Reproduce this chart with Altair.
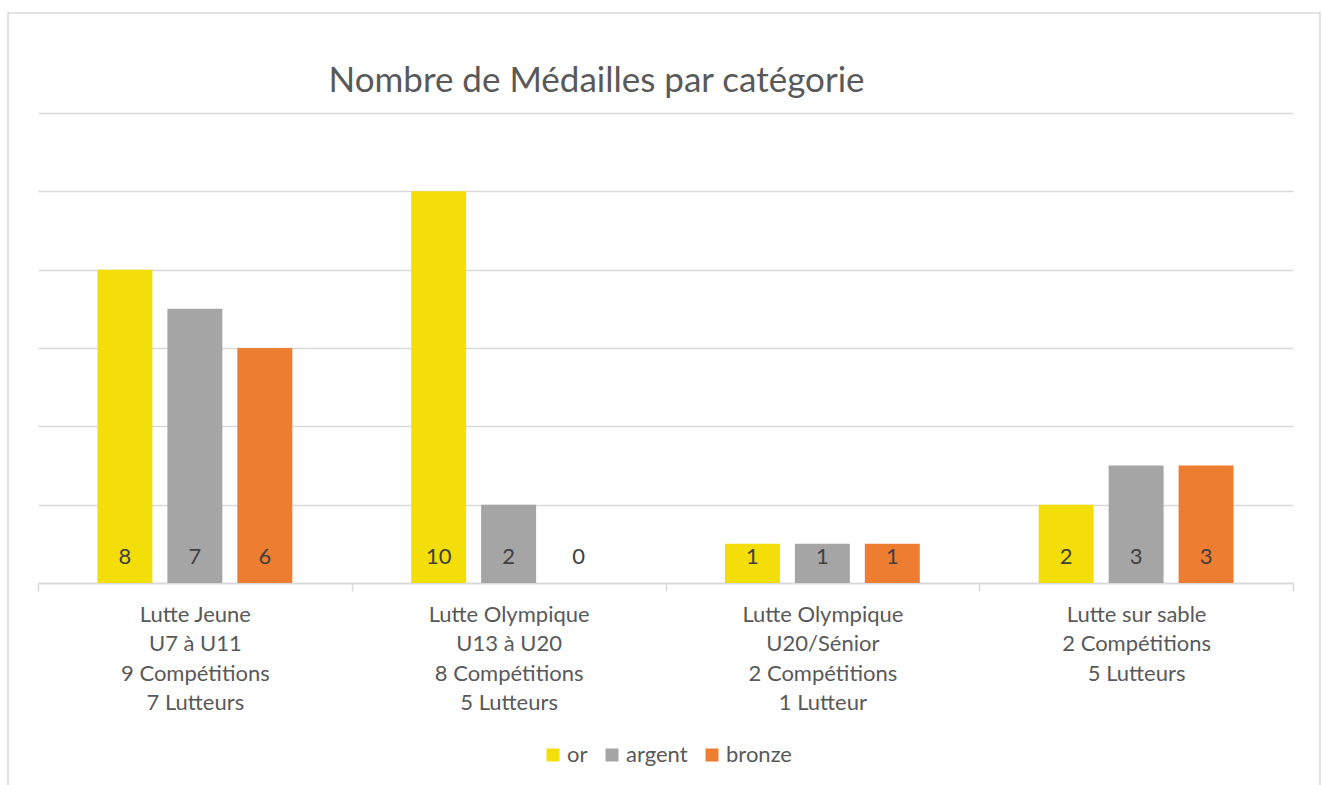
import altair as alt
import pandas as pd

categories = [
    "Lutte Jeune\nU7 à U11\n9 Compétitions\n7 Lutteurs",
    "Lutte Olympique\nU13 à U20\n8 Compétitions\n5 Lutteurs",
    "Lutte Olympique\nU20/Sénior\n2 Compétitions\n1 Lutteur",
    "Lutte sur sable\n2 Compétitions\n5 Lutteurs",
]
medals = ["or", "argent", "bronze"]
or_values = [8, 10, 1, 2]
argent_values = [7, 2, 1, 3]
bronze_values = [6, 0, 1, 3]
colors = ["#F3DE0A", "#A5A5A5", "#ED7D31"]
y_ticks = [0, 2, 4, 6, 8, 10, 12]

rows = []
for i, c in enumerate(categories):
    for m, vals in zip(medals, [or_values, argent_values, bronze_values]):
        rows.append({"categorie": c, "medaille": m, "valeur": vals[i]})
df = pd.DataFrame(rows)

FONT = "Lato"
W, H = 1255, 470
GRID = "#D9D9D9"

x_enc = alt.X(
    "categorie:N",
    sort=categories,
    title=None,
    scale=alt.Scale(paddingInner=0, paddingOuter=0),
    axis=alt.Axis(
        labelAngle=0,
        labelExpr="split(datum.label, '\\n')",
        labelFont=FONT,
        labelFontSize=22,
        labelColor="#595959",
        labelLineHeight=29.5,
        labelBaseline="top",
        labelPadding=13,
        labelLimit=400,
        domainColor=GRID,
        domainWidth=1.5,
        tickColor=GRID,
        tickWidth=1.5,
        tickSize=8,
        tickBand="extent",
        grid=False,
    ),
)
xo_enc = alt.XOffset(
    "medaille:N",
    sort=medals,
    scale=alt.Scale(paddingInner=0.214, paddingOuter=0.85),
)
y_enc = alt.Y(
    "valeur:Q",
    title=None,
    scale=alt.Scale(domain=[0, 12], nice=False),
    axis=alt.Axis(
        values=y_ticks,
        labels=False,
        ticks=False,
        domain=False,
        grid=True,
        gridColor=GRID,
        gridWidth=1.3,
    ),
)
color_enc = alt.Color(
    "medaille:N",
    sort=medals,
    scale=alt.Scale(domain=medals, range=colors),
    legend=alt.Legend(
        title=None,
        orient="none",
        direction="horizontal",
        legendX=504,
        legendY=631,
        symbolType="square",
        symbolSize=169,
        symbolStrokeWidth=0,
        labelFont=FONT,
        labelFontSize=22,
        labelColor="#595959",
        labelOffset=3,
        columnPadding=13,
        padding=0,
    ),
)

bars = alt.Chart(df).mark_bar().encode(
    x=x_enc, xOffset=xo_enc, y=y_enc, color=color_enc
)

labels = alt.Chart(df).mark_text(
    baseline="middle", dy=-26, fontSize=22, font=FONT, color="#404040"
).encode(
    x=alt.X("categorie:N", sort=categories),
    xOffset=alt.XOffset("medaille:N", sort=medals),
    y=alt.datum(0),
    text="valeur:Q",
)

border = alt.Chart(alt.Data(values=[{}])).mark_rect(
    filled=False, stroke=GRID, strokeWidth=1.5
).encode(
    x=alt.value(-30), x2=alt.value(1282), y=alt.value(-100), y2=alt.value(700)
)

chart = alt.layer(border, bars, labels).properties(
    width=W,
    height=H,
    padding={"left": 38, "top": 113, "right": 29, "bottom": 202},
    autosize=alt.AutoSizeParams(type="none"),
    background="white",
    title=alt.TitleParams(
        "Nombre de Médailles par catégorie",
        font=FONT,
        fontSize=35,
        fontWeight="normal",
        color="#595959",
        anchor="middle",
        frame="group",
        baseline="alphabetic",
        dx=-69,
        offset=-115,
    ),
).configure_view(strokeWidth=0)

chart.save("out.html", embed_options={"renderer": "svg", "actions": False})
